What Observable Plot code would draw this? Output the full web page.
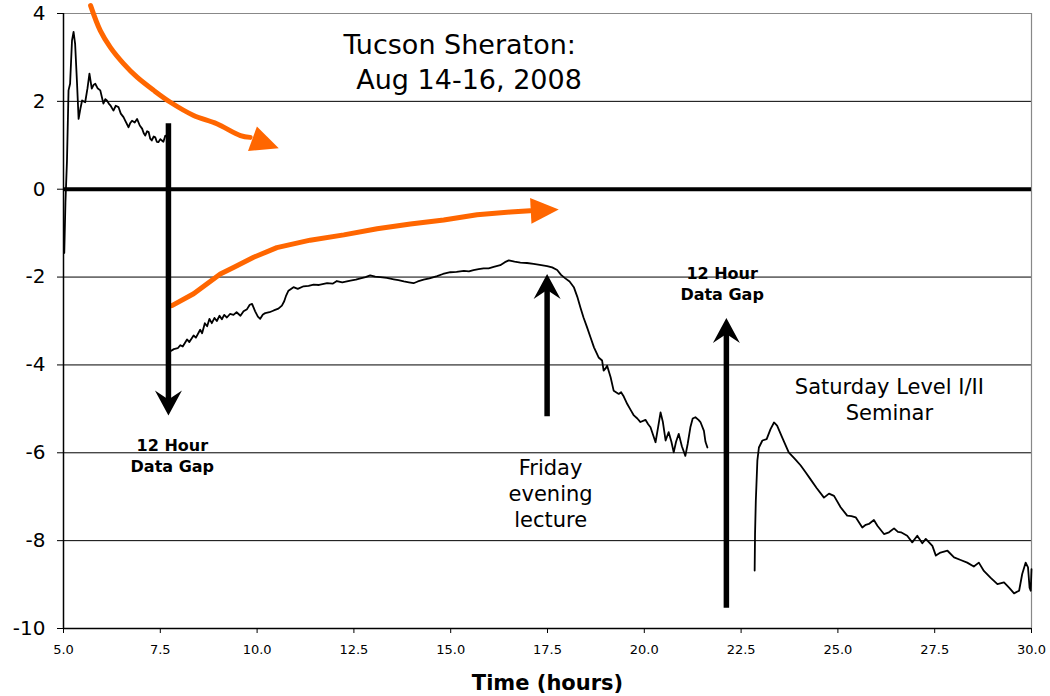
<!DOCTYPE html>
<html><head><meta charset="utf-8">
<script src="https://cdn.jsdelivr.net/npm/d3@7"></script>
<script src="https://cdn.jsdelivr.net/npm/@observablehq/plot@0.6"></script>
<style>body{margin:0;background:#fff;}</style>
</head><body><div id="chart"></div>
<script>
// ---- axis ticks ----
const xTicks = [5, 7.5, 10, 12.5, 15, 17.5, 20, 22.5, 25, 27.5, 30];
const xTickLabels = ["5.0","7.5","10.0","12.5","15.0","17.5","20.0","22.5","25.0","27.5","30.0"];
const yTicks = [-10, -8, -6, -4, -2, 0, 2, 4];
const yTickLabels = ["-10","-8","-6","-4","-2","0","2","4"];
const gridLevels = [-8, -6, -4, -2, 2];
const zeroLevel = [0];

// ---- measured series (time in hours, value) ----
const thursdaySeg = [[5.02,-1.45],[5.05,-0.3],[5.09,0.65],[5.13,2.25],[5.17,2.4],[5.22,3.39],[5.26,3.58],[5.30,3.31],[5.35,2.4],[5.39,1.6],[5.44,1.85],[5.48,2.02],[5.56,1.98],[5.62,2.3],[5.67,2.63],[5.73,2.29],[5.78,2.38],[5.82,2.4],[5.88,2.3],[5.95,2.25],[6.03,1.95],[6.08,2.05],[6.12,2.02],[6.17,1.95],[6.21,1.91],[6.29,1.79],[6.35,1.9],[6.42,1.87],[6.48,1.72],[6.55,1.64],[6.6,1.55],[6.68,1.41],[6.72,1.5],[6.77,1.56],[6.84,1.52],[6.90,1.6],[6.97,1.45],[7.03,1.38],[7.07,1.28],[7.11,1.22],[7.16,1.32],[7.20,1.3],[7.24,1.15],[7.28,1.11],[7.33,1.2],[7.37,1.18],[7.41,1.08],[7.45,1.07],[7.5,1.14],[7.54,1.11],[7.58,1.08],[7.63,1.22]];

const fridaySeg = [[7.76,-3.69],[7.85,-3.64],[7.95,-3.62],[8.02,-3.55],[8.08,-3.58],[8.19,-3.42],[8.25,-3.48],[8.36,-3.33],[8.42,-3.38],[8.53,-3.2],[8.58,-3.28],[8.65,-3.05],[8.71,-3.12],[8.77,-2.95],[8.83,-3.05],[8.9,-2.93],[8.96,-3.0],[9.03,-2.88],[9.09,-2.96],[9.15,-2.86],[9.22,-2.92],[9.3,-2.84],[9.39,-2.86],[9.47,-2.8],[9.57,-2.88],[9.65,-2.78],[9.74,-2.73],[9.81,-2.63],[9.87,-2.61],[9.95,-2.78],[10.02,-2.9],[10.08,-2.95],[10.15,-2.85],[10.21,-2.82],[10.32,-2.8],[10.43,-2.76],[10.55,-2.72],[10.64,-2.65],[10.7,-2.55],[10.75,-2.42],[10.81,-2.31],[10.94,-2.23],[11.05,-2.27],[11.2,-2.21],[11.33,-2.2],[11.46,-2.17],[11.6,-2.18],[11.81,-2.14],[11.95,-2.15],[12.06,-2.09],[12.2,-2.12],[12.41,-2.08],[12.55,-2.06],[12.67,-2.03],[12.8,-2.0],[12.92,-1.96],[13.05,-1.99],[13.18,-2.0],[13.35,-2.02],[13.53,-2.05],[13.65,-2.07],[13.79,-2.1],[13.92,-2.12],[14.04,-2.14],[14.15,-2.1],[14.3,-2.06],[14.45,-2.03],[14.65,-1.98],[14.8,-1.93],[14.99,-1.89],[15.15,-1.88],[15.34,-1.86],[15.47,-1.87],[15.59,-1.84],[15.72,-1.82],[15.85,-1.8],[15.98,-1.8],[16.11,-1.77],[16.28,-1.73],[16.4,-1.66],[16.5,-1.62],[16.65,-1.65],[16.8,-1.67],[16.97,-1.68],[17.14,-1.7],[17.3,-1.72],[17.49,-1.75],[17.62,-1.78],[17.75,-1.84],[17.85,-1.95],[17.96,-2.03],[18.07,-2.1],[18.18,-2.23],[18.27,-2.45],[18.35,-2.69],[18.43,-2.92],[18.52,-3.14],[18.61,-3.37],[18.70,-3.6],[18.82,-3.83],[18.91,-3.9],[18.95,-4.13],[19.0,-4.08],[19.04,-4.02],[19.13,-4.28],[19.21,-4.59],[19.34,-4.66],[19.4,-4.62],[19.47,-4.72],[19.56,-4.89],[19.65,-5.03],[19.73,-5.15],[19.82,-5.22],[19.90,-5.3],[20.03,-5.25],[20.1,-5.35],[20.16,-5.42],[20.29,-5.76],[20.36,-5.4],[20.42,-5.08],[20.48,-5.3],[20.55,-5.72],[20.63,-5.53],[20.7,-5.75],[20.76,-5.99],[20.82,-5.75],[20.89,-5.57],[20.97,-5.85],[21.06,-6.07],[21.12,-5.8],[21.19,-5.42],[21.25,-5.22],[21.32,-5.19],[21.4,-5.25],[21.45,-5.3],[21.54,-5.5],[21.58,-5.75],[21.63,-5.88]];

const saturdaySeg = [[22.85,-8.68],[22.86,-7.85],[22.88,-7.09],[22.92,-6.18],[22.96,-5.88],[23.05,-5.72],[23.16,-5.69],[23.26,-5.46],[23.35,-5.31],[23.43,-5.38],[23.56,-5.65],[23.73,-5.99],[23.9,-6.15],[24.04,-6.29],[24.17,-6.45],[24.29,-6.6],[24.45,-6.8],[24.64,-7.02],[24.77,-6.93],[24.9,-6.98],[25.07,-7.24],[25.24,-7.43],[25.35,-7.44],[25.46,-7.47],[25.63,-7.7],[25.72,-7.64],[25.8,-7.62],[25.93,-7.53],[26.02,-7.66],[26.19,-7.85],[26.32,-7.81],[26.45,-7.72],[26.55,-7.8],[26.63,-7.81],[26.79,-7.89],[26.92,-8.04],[27.05,-7.89],[27.18,-8.06],[27.27,-7.96],[27.44,-8.12],[27.53,-8.34],[27.65,-8.27],[27.83,-8.23],[28.0,-8.38],[28.17,-8.44],[28.34,-8.5],[28.51,-8.59],[28.64,-8.5],[28.77,-8.69],[28.94,-8.84],[29.12,-8.99],[29.29,-8.95],[29.42,-9.07],[29.55,-9.2],[29.68,-9.14],[29.76,-8.76],[29.85,-8.5],[29.91,-8.61],[29.95,-9.07],[29.98,-9.14],[30.0,-8.65]];

// ---- trend arrows (orange) ----
const coolingTrend = [[5.70,4.18],[5.95,3.61],[6.21,3.23],[6.55,2.86],[6.90,2.55],[7.33,2.25],[7.76,1.98],[8.36,1.68],[8.96,1.49],[9.57,1.22],[9.82,1.18]];
const coolingTip = [[10.56,0.93]];
const warmingTrend = [[7.80,-2.65],[8.36,-2.38],[9.05,-1.93],[9.39,-1.78],[9.91,-1.55],[10.51,-1.33],[11.37,-1.16],[12.24,-1.04],[13.10,-0.90],[13.96,-0.79],[14.82,-0.70],[15.68,-0.58],[16.54,-0.52],[17.05,-0.49]];
const warmingTip = [[17.79,-0.46]];

// ---- black annotation arrows (x, from, to) ----
const downArrows = [{x: 7.71, from: 1.49, to: -5.15}];
const upArrows = [{x: 17.49, from: -5.18, to: -1.93}, {x: 22.12, from: -9.54, to: -2.93}];

// ---- text annotations ----
const titleLines = [{x: 12.23, y: 3.52, t: "Tucson Sheraton:"}, {x: 12.56, y: 2.72, t: "Aug 14-16, 2008"}];
const gapNotes = [{x: 7.81, y: -5.63, t: "12 Hour\nData Gap"}, {x: 22.01, y: -1.70, t: "12 Hour\nData Gap"}];
const eventNotes = [{x: 17.58, y: -6.08, t: "Friday\nevening\nlecture"}, {x: 26.33, y: -4.23, t: "Saturday Level I/II\nSeminar"}];
const xAxisTitle = ["Time (hours)"];

// ---- layout ----
const W = 1050, H = 696, mt = 13, mb = 68, ml = 63, mr = 19;
const yDomain = [-10, 4];
const pxPerY = (H - mt - mb) / (yDomain[1] - yDomain[0]);
const notchUnits = 14 / pxPerY;

function headSymbol(points, angleDeg) {
  const a = angleDeg * Math.PI / 180, c = Math.cos(a), s = Math.sin(a);
  return {draw(ctx, size) {
    const k = Math.sqrt(size / Math.PI) / 10;
    points.forEach(([px, py], i) => {
      const x = k * (px * c - py * s), y = k * (px * s + py * c);
      i ? ctx.lineTo(x, y) : ctx.moveTo(x, y);
    });
    ctx.closePath();
  }};
}
const stealth = [[0,0],[13.5,25],[0,16],[-13.5,25]];
const tri = [[0,0],[13,28],[-13,28]];

const xLab = new Map(xTicks.map((t, i) => [t, xTickLabels[i]]));
const yLab = new Map(yTicks.map((t, i) => [t, yTickLabels[i]]));
const X = d => d[0], Y = d => d[1];
const orange = "#FF6600";

const chart = Plot.plot({
  width: W, height: H,
  marginTop: mt, marginBottom: mb, marginLeft: ml, marginRight: mr,
  style: {fontFamily: "DejaVu Sans, Verdana, sans-serif", background: "white", color: "black"},
  x: {domain: [5, 30]},
  y: {domain: yDomain},
  marks: [
    Plot.ruleY(gridLevels, {stroke: "black", strokeWidth: 1}),
    Plot.ruleY([4], {stroke: "#888", strokeWidth: 1.2}),
    Plot.ruleX([30], {stroke: "#888", strokeWidth: 1.2}),
    Plot.ruleY(zeroLevel, {stroke: "black", strokeWidth: 4}),
    Plot.ruleX([5], {stroke: "black", strokeWidth: 1.5}),
    Plot.ruleY([-10], {stroke: "black", strokeWidth: 1.5}),
    Plot.line(coolingTrend, {x: X, y: Y, stroke: orange, strokeWidth: 5, curve: "catmull-rom"}),
    Plot.line(warmingTrend, {x: X, y: Y, stroke: orange, strokeWidth: 5}),
    Plot.dot(coolingTip, {x: X, y: Y, r: 10, symbol: headSymbol(tri, 110), fill: orange, stroke: "none"}),
    Plot.dot(warmingTip, {x: X, y: Y, r: 10, symbol: headSymbol(tri, 87), fill: orange, stroke: "none"}),
    Plot.line(thursdaySeg, {x: X, y: Y, stroke: "black", strokeWidth: 1.8}),
    Plot.line(fridaySeg, {x: X, y: Y, stroke: "black", strokeWidth: 1.8}),
    Plot.line(saturdaySeg, {x: X, y: Y, stroke: "black", strokeWidth: 1.8}),
    Plot.ruleX(downArrows, {x: "x", y1: "from", y2: d => d.to + notchUnits, stroke: "black", strokeWidth: 5.5}),
    Plot.ruleX(upArrows, {x: "x", y1: "from", y2: d => d.to - notchUnits, stroke: "black", strokeWidth: 5.5}),
    Plot.dot(downArrows, {x: "x", y: "to", r: 10, symbol: headSymbol(stealth, 180), fill: "black", stroke: "none"}),
    Plot.dot(upArrows, {x: "x", y: "to", r: 10, symbol: headSymbol(stealth, 0), fill: "black", stroke: "none"}),
    Plot.text(titleLines, {x: "x", y: "y", text: "t", textAnchor: "start", lineAnchor: "top", fontSize: 27, fill: "black"}),
    Plot.text(gapNotes, {x: "x", y: "y", text: "t", lineAnchor: "top", fontSize: 16, fontWeight: "bold", lineHeight: 1.31, fill: "black"}),
    Plot.text(eventNotes, {x: "x", y: "y", text: "t", lineAnchor: "top", fontSize: 21, lineHeight: 1.25, fill: "black"}),
    Plot.text(xAxisTitle, {frameAnchor: "bottom", dy: 61, lineAnchor: "bottom", fontSize: 21, fontWeight: "bold", fill: "black"}),
    Plot.axisX({ticks: xTicks, tickFormat: d => xLab.get(d), tickSize: 5, tickPadding: 11, fontSize: 13, label: null}),
    Plot.axisY({ticks: yTicks, tickFormat: d => yLab.get(d), tickSize: 6, tickPadding: 12, fontSize: 20, label: null})
  ]
});
document.getElementById("chart").appendChild(chart);
</script>
</body></html>
